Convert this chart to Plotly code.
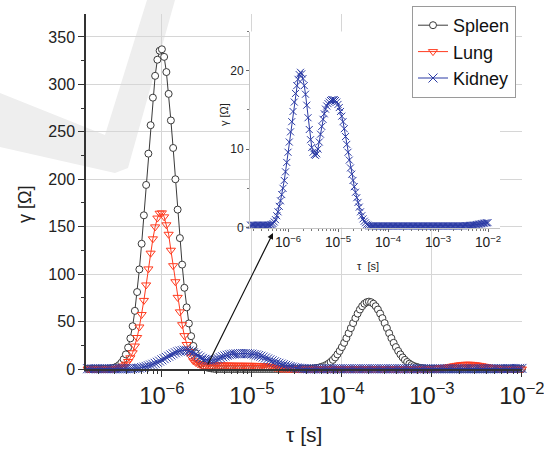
import plotly.graph_objects as go

# log10 of relaxation time tau [s]
log_tau = [
    -6.85, -6.825, -6.8, -6.775, -6.75, -6.725, -6.7, -6.675,
    -6.65, -6.625, -6.6, -6.575, -6.55, -6.525, -6.5, -6.475,
    -6.45, -6.425, -6.4, -6.375, -6.35, -6.325, -6.3, -6.275,
    -6.25, -6.225, -6.2, -6.175, -6.15, -6.125, -6.1, -6.075,
    -6.05, -6.025, -6.0, -5.975, -5.95, -5.925, -5.9, -5.875,
    -5.85, -5.825, -5.8, -5.775, -5.75, -5.725, -5.7, -5.675,
    -5.65, -5.625, -5.6, -5.575, -5.55, -5.525, -5.5, -5.475,
    -5.45, -5.425, -5.4, -5.375, -5.35, -5.325, -5.3, -5.275,
    -5.25, -5.225, -5.2, -5.175, -5.15, -5.125, -5.1, -5.075,
    -5.05, -5.025, -5.0, -4.975, -4.95, -4.925, -4.9, -4.875,
    -4.85, -4.825, -4.8, -4.775, -4.75, -4.725, -4.7, -4.675,
    -4.65, -4.625, -4.6, -4.575, -4.55, -4.525, -4.5, -4.475,
    -4.45, -4.425, -4.4, -4.375, -4.35, -4.325, -4.3, -4.275,
    -4.25, -4.225, -4.2, -4.175, -4.15, -4.125, -4.1, -4.075,
    -4.05, -4.025, -4.0, -3.975, -3.95, -3.925, -3.9, -3.875,
    -3.85, -3.825, -3.8, -3.775, -3.75, -3.725, -3.7, -3.675,
    -3.65, -3.625, -3.6, -3.575, -3.55, -3.525, -3.5, -3.475,
    -3.45, -3.425, -3.4, -3.375, -3.35, -3.325, -3.3, -3.275,
    -3.25, -3.225, -3.2, -3.175, -3.15, -3.125, -3.1, -3.075,
    -3.05, -3.025, -3.0, -2.975, -2.95, -2.925, -2.9, -2.875,
    -2.85, -2.825, -2.8, -2.775, -2.75, -2.725, -2.7, -2.675,
    -2.65, -2.625, -2.6, -2.575, -2.55, -2.525, -2.5, -2.475,
    -2.45, -2.425, -2.4, -2.375, -2.35, -2.325, -2.3, -2.275,
    -2.25, -2.225, -2.2, -2.175, -2.15, -2.125, -2.1, -2.075,
    -2.05, -2.025, -2.0,
]

spleen = [
    0, 0, 0, 0, 0, 0, 0, 0,
    0, 0, 0.3, 0.5, 0.9, 1.5, 2.6, 4.2,
    6.6, 10.3, 15.4, 22.6, 32.3, 45.1, 61.3, 81.1,
    105, 132, 162, 194, 227, 257, 286, 309,
    326, 335.5, 337, 329, 313, 290, 262, 233,
    200, 168, 138, 110, 85.6, 65, 48, 34.6,
    24.3, 16.6, 11.1, 7.3, 4.6, 2.8, 1.7, 1.0,
    0.6, 0.3, 0, 0, 0, 0, 0, 0,
    0, 0, 0, 0, 0, 0, 0, 0,
    0, 0, 0, 0, 0, 0, 0, 0,
    0, 0, 0, 0, 0, 0, 0, 0,
    0, 0, 0, 0, 0, 0, 0, 0,
    0, 0, 0, 0, 0.3, 0.5, 0.8, 1.1,
    1.6, 2.3, 3.1, 4.2, 5.6, 7.4, 9.6, 12.2,
    15.4, 19.0, 23.1, 27.6, 32.5, 37.7, 43.1, 48.4,
    53.6, 58.4, 62.7, 66.2, 68.8, 70.4, 71, 70.4,
    68.8, 66.2, 62.7, 58.4, 53.6, 48.4, 43.1, 37.7,
    32.5, 27.6, 23.1, 19.0, 15.4, 12.2, 9.6, 7.4,
    5.6, 4.2, 3.1, 2.3, 1.6, 1.1, 0.8, 0.5,
    0.3, 0, 0, 0, 0, 0, 0, 0,
    0, 0, 0, 0, 0, 0, 0, 0,
    0, 0, 0, 0, 0, 0, 0, 0,
    0, 0, 0, 0, 0, 0, 0, 0,
    0, 0, 0, 0, 0, 0, 0, 0,
    0, 0, 0,
]

lung = [
    0, 0, 0, 0, 0, 0, 0, 0,
    0, 0, 0, 0, 0.2, 0.4, 0.7, 1.2,
    2.0, 3.2, 5.1, 7.9, 11.8, 17.1, 24.2, 33.2,
    44.3, 57.4, 72.3, 88.6, 105.5, 122.1, 137.2, 149.8,
    159.1, 164.2, 164.6, 160.4, 152, 142, 125.2, 108.9,
    92.0, 75.5, 60.2, 46.7, 35.2, 25.8, 18.4, 12.7,
    8.6, 7.0, 5.5, 4.6, 4.2, 4.1, 4.1, 4.2,
    4.2, 4.3, 4.3, 4.3, 4.2, 4.2, 4.1, 4.1,
    4.0, 4.0, 4.0, 3.9, 3.9, 3.9, 3.9, 3.9,
    3.8, 3.8, 3.8, 3.8, 3.7, 3.7, 3.6, 3.5,
    3.3, 3.0, 2.6, 2.1, 1.6, 1.1, 0.7, 0.4,
    0.2, 0.1, 0, 0, 0, 0, 0, 0,
    0, 0, 0, 0, 0, 0, 0, 0,
    0, 0, 0, 0, 0, 0, 0, 0,
    0, 0, 0, 0, 0, 0, 0, 0,
    0, 0, 0, 0, 0, 0, 0, 0,
    0, 0, 0, 0, 0, 0, 0, 0,
    0, 0, 0, 0, 0, 0, 0, 0,
    0, 0, 0, 0, 0, 0, 0, 0,
    0.1, 0.2, 0.3, 0.4, 0.6, 0.8, 1.1, 1.4,
    1.7, 2.1, 2.5, 2.9, 3.4, 3.8, 4.2, 4.5,
    4.8, 4.95, 5.0, 4.95, 4.8, 4.5, 4.2, 3.8,
    3.4, 2.9, 2.5, 2.1, 1.7, 1.4, 1.1, 0.8,
    0.6, 0.4, 0.3, 0.2, 0.1, 0, 0, 0,
    0, 0, 0,
]

kidney = [
    0.3, 0.3, 0.3, 0.3, 0.3, 0.3, 0.3, 0.3,
    0.3, 0.3, 0.3, 0.3, 0.3, 0.3, 0.3, 0.3,
    0.3, 0.3, 0.3, 0.3, 0.35, 0.4, 0.5, 0.7,
    1.0, 1.5, 2.0, 2.7, 3.4, 4.2, 5.0, 6.0,
    7.1, 8.3, 9.6, 10.9, 12.2, 13.5, 14.8, 16.0,
    17.1, 18.1, 18.9, 19.5, 19.8, 19.6, 19.0, 18.1,
    17.0, 15.6, 14.0, 12.5, 11.2, 10.2, 9.6, 9.3,
    9.2, 9.4, 10.0, 10.9, 11.9, 12.9, 13.8, 14.5,
    15.1, 15.5, 15.8, 16.0, 16.2, 16.3, 16.3, 16.3,
    16.2, 16.0, 15.7, 15.3, 14.8, 14.2, 13.5, 12.6,
    11.6, 10.6, 9.6, 8.6, 7.6, 6.8, 6.0, 5.2,
    4.5, 3.8, 3.2, 2.6, 2.0, 1.5, 1.1, 0.8,
    0.6, 0.4, 0.3, 0.2, 0.2, 0.2, 0.2, 0.2,
    0.2, 0.2, 0.2, 0.2, 0.2, 0.2, 0.2, 0.2,
    0.2, 0.2, 0.2, 0.2, 0.2, 0.2, 0.2, 0.2,
    0.2, 0.2, 0.2, 0.2, 0.2, 0.2, 0.2, 0.2,
    0.2, 0.2, 0.2, 0.2, 0.2, 0.2, 0.2, 0.2,
    0.2, 0.2, 0.2, 0.2, 0.2, 0.2, 0.2, 0.2,
    0.2, 0.2, 0.2, 0.2, 0.2, 0.2, 0.2, 0.2,
    0.2, 0.2, 0.2, 0.2, 0.2, 0.2, 0.2, 0.2,
    0.2, 0.2, 0.2, 0.2, 0.2, 0.2, 0.2, 0.2,
    0.2, 0.2, 0.2, 0.2, 0.2, 0.2, 0.2, 0.22,
    0.23, 0.24, 0.25, 0.26, 0.28, 0.29, 0.3, 0.32,
    0.34, 0.37, 0.4, 0.43, 0.46, 0.49, 0.52, 0.55,
    0.58, 0.6, 0.62,
]

series_names = ["Spleen", "Lung", "Kidney"]

assert len(log_tau) == len(spleen) == len(lung) == len(kidney), (
    len(log_tau), len(spleen), len(lung), len(kidney))

tau = [10 ** v for v in log_tau]

FONT = "Liberation Sans, Arial, sans-serif"
C_SPLEEN = "#3a3a3a"
C_LUNG = "#ff3b1f"
C_KIDNEY = "#2a3aa5"

fig = go.Figure()

fig.add_trace(go.Scatter(
    x=tau, y=spleen, name=series_names[0], mode="lines+markers",
    line=dict(color=C_SPLEEN, width=1),
    marker=dict(symbol="circle", size=7, color="white",
                line=dict(color=C_SPLEEN, width=1)),
    cliponaxis=False,
))
fig.add_trace(go.Scatter(
    x=tau, y=lung, name=series_names[1], mode="lines+markers",
    line=dict(color=C_LUNG, width=1),
    marker=dict(symbol="triangle-down-open", size=8, color=C_LUNG,
                line=dict(width=1)),
    cliponaxis=False,
))
fig.add_trace(go.Scatter(
    x=tau, y=kidney, name=series_names[2], mode="lines+markers",
    line=dict(color=C_KIDNEY, width=1),
    marker=dict(symbol="x-thin-open", size=9, color=C_KIDNEY,
                line=dict(width=1, color=C_KIDNEY)),
    cliponaxis=False,
))

# inset: Kidney only, points inside the inset range
ins_x = [t for t, lt in zip(tau, log_tau) if lt >= -6.765]
ins_y = [k for k, lt in zip(kidney, log_tau) if lt >= -6.765]
fig.add_trace(go.Scatter(
    x=ins_x, y=ins_y, name=series_names[2], mode="lines+markers",
    xaxis="x2", yaxis="y2", showlegend=False,
    line=dict(color=C_KIDNEY, width=1),
    marker=dict(symbol="x-thin-open", size=7, color=C_KIDNEY,
                line=dict(width=1, color=C_KIDNEY)),
    cliponaxis=False,
))

# plot area in pixels: x 86..522, y 14..369
L, R, T, B = 86, 22, 14, 81
PW, PH = 544 - L - R, 450 - T - B


def px(xp):
    return (xp - L) / PW


def py(yp):
    return (450 - B - yp) / PH


wm = [(0, 93), (105, 135), (147, 0), (175, 0), (128, 168), (115, 173), (0, 147)]
path = "M " + " L ".join(f"{px(a):.4f},{py(b):.4f}" for a, b in wm) + " Z"

fig.update_layout(
    width=544, height=450,
    margin=dict(l=L, r=R, t=T, b=B, autoexpand=False),
    paper_bgcolor="white", plot_bgcolor="white",
    font=dict(family=FONT, color="#222"),
    showlegend=True,
    legend=dict(x=px(412), y=py(6), xanchor="left", yanchor="top",
                bgcolor="white", bordercolor="#9a9a9a", borderwidth=1,
                font=dict(size=18, color="#111"), tracegroupgap=0),
    xaxis=dict(
        type="log", range=[-6.843, -1.999], domain=[0, 1],
        showline=True, linecolor="#333", linewidth=1.5, mirror=False,
        ticks="outside", ticklen=6, tickwidth=1.2, tickcolor="#333",
        dtick=1, exponentformat="power", showexponent="all",
        ticklabeloverflow="allow",
        tickfont=dict(size=19, color="#222"),
        showgrid=True, gridcolor="#d6d6d6", gridwidth=1, zeroline=False,
        minor=dict(ticks="outside", ticklen=3, tickwidth=1, tickcolor="#333",
                   dtick="D1", showgrid=False),
    ),
    yaxis=dict(
        range=[0, 374.2], domain=[0, 1],
        showline=True, linecolor="#333", linewidth=1.5,
        ticks="outside", ticklen=6, tickwidth=1.2, tickcolor="#333",
        tick0=0, dtick=50, tickfont=dict(size=16, color="#222"),
        showgrid=True, gridcolor="#d6d6d6", gridwidth=1, zeroline=False,
        minor=dict(ticks="outside", ticklen=3, tickwidth=1, tickcolor="#333",
                   dtick=25, showgrid=False),
    ),
    xaxis2=dict(
        type="log", range=[-6.76, -1.76], domain=[px(250), px(500)],
        anchor="y2", showline=True, linecolor="#c4c4c4", linewidth=1,
        ticks="outside", ticklen=3, tickwidth=1, tickcolor="#666",
        dtick=1, exponentformat="power", showexponent="all",
        tickfont=dict(size=11, color="#222"), showgrid=False, zeroline=False,
        minor=dict(ticks="outside", ticklen=2, tickwidth=1, tickcolor="#777",
                   dtick="D1", showgrid=False),
    ),
    yaxis2=dict(
        range=[0, 25], domain=[py(227.5), py(31.5)], anchor="x2",
        showline=True, linecolor="#c4c4c4", linewidth=1,
        ticks="outside", ticklen=3, tickwidth=1, tickcolor="#666",
        tick0=0, dtick=10, tickfont=dict(size=12, color="#222"),
        showgrid=False, zeroline=False,
        minor=dict(ticks="outside", ticklen=2, tickwidth=1, tickcolor="#777",
                   dtick=5, showgrid=False),
    ),
    shapes=[dict(type="path", path=path, xref="paper", yref="paper",
                 fillcolor="#eeeeee", line=dict(width=0), layer="below")],
    annotations=[
        dict(text="τ [s]", x=0.5, y=py(448), xref="paper", yref="paper",
             showarrow=False, font=dict(size=21, color="#222"),
             xanchor="center", yanchor="bottom"),
        dict(text="γ [Ω]", x=px(25), y=py(205), xref="paper", yref="paper",
             showarrow=False, textangle=-90, font=dict(size=18, color="#222"),
             xanchor="center", yanchor="middle"),
        dict(text="τ  [s]", x=px(368), y=py(266), xref="paper", yref="paper",
             showarrow=False, font=dict(size=11, color="#222"),
             xanchor="center", yanchor="middle"),
        dict(text="γ [Ω]", x=px(224), y=py(115), xref="paper", yref="paper",
             showarrow=False, textangle=-90, font=dict(size=11, color="#222"),
             xanchor="center", yanchor="middle"),
        dict(text="", x=px(273), y=py(233), xref="paper", yref="paper",
             showarrow=True, ax=207 - 273, ay=366 - 233,
             arrowhead=2, arrowsize=1, arrowwidth=1.2, arrowcolor="#111"),
    ],
)

fig.write_html("out.html",
               config={"displayModeBar": False},
               post_script="document.documentElement.style.overflow='hidden';"
                           "document.body.style.overflow='hidden';"
                           "document.body.style.margin='0';"
                           "document.body.style.padding='0';")
